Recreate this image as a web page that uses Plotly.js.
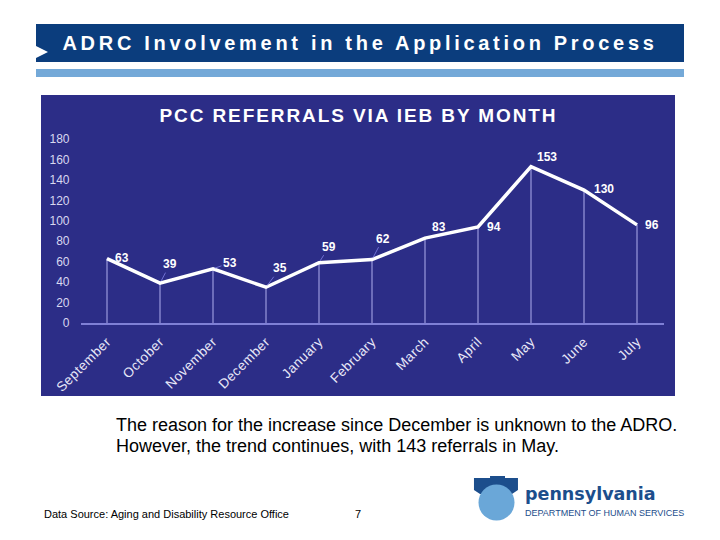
<!DOCTYPE html>
<html><head><meta charset="utf-8">
<script src="https://cdn.plot.ly/plotly-3.0.1.min.js"></script>
<style>body{margin:0;}#c{width:720px;height:540px;}</style>
</head><body><div id="c"></div>
<script>
const months = ["September","October","November","December","January","February","March","April","May","June","July"];
const referrals = [63,39,53,35,59,62,83,94,153,130,96];
const yTicks = [0,20,40,60,80,100,120,140,160,180];

// label offsets (px) and whether a faint leader line is drawn
const labelDx = [15,10,17,14,10,11,14,16,16,20,15];
const labelDy = [-1,-19,-6,-19,-16,-21,-11,0,-10,-1,0];
const labelLeader = [false,true,true,true,true,true,false,false,false,false,false];

const traces = [{
  x: months, y: referrals, type: 'scatter', mode: 'lines',
  line: {color: '#ffffff', width: 3.5},
  error_y: {type: 'data', symmetric: false, array: referrals.map(()=>0), arrayminus: referrals,
            color: 'rgba(190,190,250,0.6)', thickness: 1.5, width: 0},
  hoverinfo: 'skip', showlegend: false
}];

const pointLabels = months.map((m, i) => ({
  x: m, y: referrals[i], xref: 'x', yref: 'y', text: String(referrals[i]),
  showarrow: true, arrowhead: 0, arrowwidth: 1, standoff: 2, startstandoff: 0,
  arrowcolor: labelLeader[i] ? 'rgba(130,130,230,0.8)' : 'rgba(0,0,0,0)',
  ax: labelDx[i], ay: labelDy[i], xanchor: 'center', yanchor: 'middle',
  font: {family: 'Liberation Sans, Arial', size: 12, color: '#ffffff', weight: 'bold'}
}));

const layout = {
  width: 720, height: 540, margin: {l:0, r:0, t:0, b:0},
  paper_bgcolor: '#ffffff', plot_bgcolor: 'rgba(0,0,0,0)',
  showlegend: false,
  xaxis: {domain: [80.5/720, 663.5/720], range: [-0.5, 10.5], type: 'category',
          showgrid: false, zeroline: false, showline: true, linecolor: '#7f80d6', linewidth: 1.5,
          tickangle: -45, ticks: '', ticklabelstandoff: 4,
          tickfont: {family: 'Liberation Sans, Arial', size: 13.5, color: '#e8e8f8'},
          fixedrange: true},
  yaxis: {domain: [(540-323)/540, (540-139)/540], range: [0, 180], tickvals: yTicks,
          showgrid: false, zeroline: false, showline: false, ticks: '',
          tickfont: {family: 'Liberation Sans, Arial', size: 12, color: '#d8d8f0'},
          ticklabelstandoff: 10, fixedrange: true},
  shapes: [
    {type:'rect', xref:'paper', yref:'paper', x0:36/720, x1:684/720, y0:1-62/540, y1:1-24/540, fillcolor:'#0b3d7d', line:{width:0}, layer:'below'},
    {type:'path', xref:'paper', yref:'paper', path:'M 0.05 0.9148 L 0.0667 0.9037 L 0.05 0.8926 Z', fillcolor:'#ffffff', line:{width:0}, layer:'below'},
    {type:'rect', xref:'paper', yref:'paper', x0:36/720, x1:684/720, y0:1-77/540, y1:1-69/540, fillcolor:'#74a9d8', line:{width:0}, layer:'below'},
    {type:'rect', xref:'paper', yref:'paper', x0:41/720, x1:675/720, y0:1-396/540, y1:1-95/540, fillcolor:'#2c2d87', line:{width:0}, layer:'below'},
    {type:'path', xref:'paper', yref:'paper',
     path:'M 0.6583 0.1148 L 0.6806 0.1148 L 0.6806 0.1185 L 0.7014 0.1185 L 0.7014 0.1148 L 0.7194 0.1148 L 0.7194 0.0926 L 0.7111 0.0852 L 0.6667 0.0852 L 0.6583 0.0926 Z',
     fillcolor:'#1c4e8c', line:{width:0}, layer:'below'},
    {type:'circle', xref:'paper', yref:'paper', x0:478.5/720, x1:514.5/720, y0:1-520.5/540, y1:1-484.5/540, fillcolor:'#6aa7d8', line:{width:0}, layer:'below'}
  ],
  annotations: pointLabels.concat([
    {xref:'paper', yref:'paper', x:359.5/720, y:1-43/540, xanchor:'center', yanchor:'middle', showarrow:false,
     text:'ADRC Involvement in the Application Process', font:{family:'Liberation Sans, Arial', size:20, color:'#ffffff', weight:'bold'}},
    {xref:'paper', yref:'paper', x:358/720, y:1-115/540, xanchor:'center', yanchor:'middle', showarrow:false,
     text:'PCC REFERRALS VIA IEB BY MONTH',
     font:{family:'Liberation Sans, Arial', size:19, color:'#ffffff', weight:'bold'}},
    {xref:'paper', yref:'paper', x:114/720, y:1-425/540, xanchor:'left', yanchor:'middle', showarrow:false,
     text:'The reason for the increase since December is unknown to the ADRO.', font:{family:'Liberation Sans, Arial', size:18, color:'#000000'}},
    {xref:'paper', yref:'paper', x:114/720, y:1-446/540, xanchor:'left', yanchor:'middle', showarrow:false,
     text:'However, the trend continues, with 143 referrals in May.', font:{family:'Liberation Sans, Arial', size:18, color:'#000000'}},
    {xref:'paper', yref:'paper', x:42/720, y:1-514/540, xanchor:'left', yanchor:'middle', showarrow:false,
     text:'Data Source: Aging and Disability Resource Office', font:{family:'Liberation Sans, Arial', size:11, color:'#000000'}},
    {xref:'paper', yref:'paper', x:358/720, y:1-514/540, xanchor:'center', yanchor:'middle', showarrow:false,
     text:'7', font:{family:'Liberation Sans, Arial', size:11, color:'#000000'}},
    {xref:'paper', yref:'paper', x:523/720, y:1-494/540, xanchor:'left', yanchor:'middle', showarrow:false,
     text:'pennsylvania', font:{family:'DejaVu Sans, Arial', size:17.5, color:'#1c4e8c', weight:'bold'}},
    {xref:'paper', yref:'paper', x:523/720, y:1-513/540, xanchor:'left', yanchor:'middle', showarrow:false,
     text:'DEPARTMENT OF HUMAN SERVICES', font:{family:'Liberation Sans Narrow, Liberation Sans, Arial', size:9, color:'#1c4e8c'}}
  ])
};
Plotly.newPlot('c', traces, layout, {staticPlot: true, displayModeBar: false}).then(() => {
  document.querySelectorAll('.annotation-text').forEach(t => {
    const s = t.textContent;
    if (s.startsWith('ADRC')) t.setAttribute('letter-spacing', '3.7px');
    if (s.startsWith('PCC')) t.setAttribute('letter-spacing', '1.9px');
  });
  document.querySelectorAll('.xtick text').forEach(t => t.setAttribute('letter-spacing', '0.5px'));
});
</script></body></html>
